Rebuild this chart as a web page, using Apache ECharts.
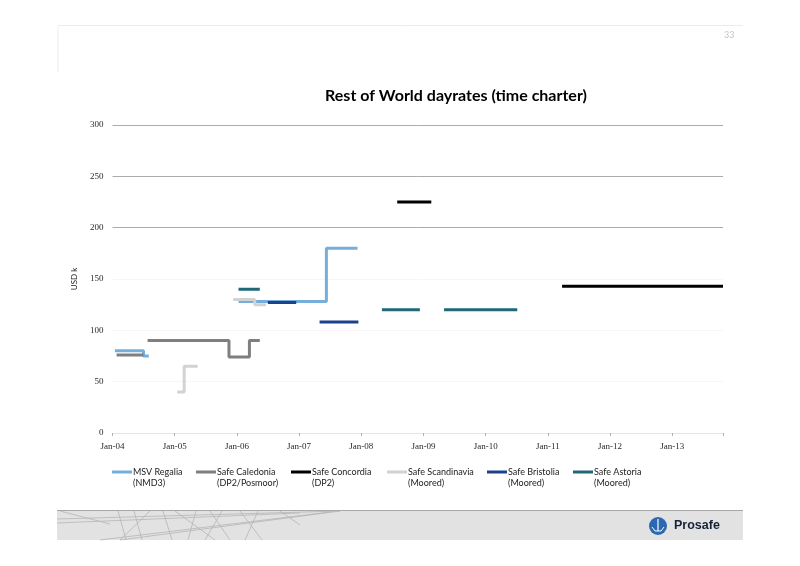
<!DOCTYPE html>
<html>
<head>
<meta charset="utf-8">
<script src="https://cdn.jsdelivr.net/npm/echarts@6/dist/echarts.min.js"></script>
<style>
  html, body { margin: 0; padding: 0; background: #fff; }
  #main { width: 800px; height: 566px; }
</style>
</head>
<body>
<div id="main"></div>
<script>
// dayrates, USD k per day, step changes
// a null row closes a contract (same date as its last row, so the step stops there)
var regalia     = [['2004-01-15', 80], ['2004-07-01', 75], ['2004-08-01', 75], ['2004-08-01', null],
                   ['2006-01-10', 128], ['2007-06-10', 180], ['2007-12-10', 180]];
var caledonia   = [['2004-01-25', 76], ['2004-07-01', 76], ['2004-07-01', null],
                   ['2004-07-25', 90], ['2005-11-15', 74], ['2006-03-15', 90], ['2006-05-15', 90]];
var concordia   = [['2008-07-30', 225], ['2009-02-15', 225], ['2009-02-15', null],
                   ['2011-03-25', 143], ['2013-10-25', 143]];
var scandinavia = [['2005-01-15', 40], ['2005-02-25', 65], ['2005-05-15', 65], ['2005-05-15', null],
                   ['2005-12-10', 130], ['2006-04-15', 125], ['2006-06-20', 125]];
var bristolia   = [['2006-07-01', 127], ['2006-12-15', 127], ['2006-12-15', null],
                   ['2007-05-01', 108], ['2007-12-15', 108]];
var astoria     = [['2006-01-10', 140], ['2006-05-15', 140], ['2006-05-15', null],
                   ['2008-05-01', 120], ['2008-12-10', 120], ['2008-12-10', null],
                   ['2009-05-01', 120], ['2010-07-05', 120]];

var seriesNames  = ['MSV Regalia\n(NMD3)', 'Safe Caledonia\n(DP2/Posmoor)', 'Safe Concordia\n(DP2)',
                    'Safe Scandinavia\n(Moored)', 'Safe Bristolia\n(Moored)', 'Safe Astoria\n(Moored)'];
var seriesData   = [regalia, caledonia, concordia, scandinavia, bristolia, astoria];
var seriesColors = ['#74afdb', '#7f7f7f', '#000000', '#d2d2d2', '#1b418f', '#1f6876'];
var legendLeft   = [112, 196, 291, 387, 487, 573];

var yTicks = [0, 50, 100, 150, 200, 250, 300];

var DAY = 86400000;
var xMin = Date.parse('2004-01-01');
var xMax = Date.parse('2013-10-25');

function toPoints(rows) {
  return rows.map(function (r) { return [Date.parse(r[0]), r[1]]; });
}

var chart = echarts.init(document.getElementById('main'));

// legend line sits level with the first text row
var legendIcon = 'path://M0,0L0.01,0L0.01,0.01Z M0,4.5H20V7.5H0Z M0,23L0.01,23L0.01,22.99Z';

var legends = seriesNames.map(function (name, i) {
  return {
    data: [name],
    left: legendLeft[i],
    top: 466,
    padding: 0,
    icon: legendIcon,
    itemWidth: 20,
    itemHeight: 23,
    itemStyle: { borderWidth: 0 },
    selectedMode: false,
    textStyle: { fontFamily: 'Lato', fontSize: 9, lineHeight: 11.5, color: '#222', padding: [0, 0, 0, -4] }
  };
});

var series = seriesData.map(function (rows, i) {
  return {
    name: seriesNames[i],
    type: 'line',
    step: 'end',
    data: toPoints(rows),
    showSymbol: false,
    symbol: 'none',
    connectNulls: false,
    color: seriesColors[i],
    lineStyle: { width: 3, color: seriesColors[i] },
    animation: false
  };
});

// truss drawing in the footer band
var truss = [
  [57, 519, 340, 511], [57, 523, 300, 513], [100, 540, 330, 512], [120, 540, 340, 511],
  [118, 511, 126, 540], [134, 511, 142, 540], [163, 511, 172, 540], [196, 511, 188, 540],
  [210, 511, 230, 540], [222, 511, 205, 540], [240, 511, 262, 540], [258, 511, 245, 540],
  [60, 511, 110, 524], [150, 511, 120, 540], [280, 511, 300, 525], [175, 511, 215, 540]
];
var trussLines = truss.map(function (s) {
  return { type: 'line', shape: { x1: s[0], y1: s[1], x2: s[2], y2: s[3] },
           style: { stroke: '#b5b5b5', lineWidth: 0.8 }, silent: true };
});

chart.setOption({
  backgroundColor: '#fff',
  animation: false,
  title: {
    text: 'Rest of World dayrates (time charter)',
    left: 451,
    textAlign: 'center',
    top: 83,
    textStyle: { fontFamily: 'Lato', fontWeight: 'bold', fontSize: 16, color: '#000' }
  },
  legend: legends,
  grid: { left: 112.5, right: 77, top: 125, bottom: 133 },
  xAxis: {
    type: 'value',
    min: xMin,
    max: xMax,
    interval: 365.25 * DAY,
    splitLine: { show: false },
    axisLine: { show: true, lineStyle: { color: '#e6e6e6', width: 1 } },
    axisTick: { show: true, length: 3, lineStyle: { color: '#b0b0b0' } },
    axisLabel: {
      margin: 9,
      fontFamily: 'Liberation Serif',
      fontSize: 9,
      color: '#2a2a2a',
      formatter: function (v) {
        var d = new Date(v + DAY);
        if (d.getUTCMonth() !== 0) return '';
        return 'Jan-' + String(d.getUTCFullYear()).slice(2);
      }
    }
  },
  yAxis: {
    type: 'value',
    min: yTicks[0],
    max: yTicks[yTicks.length - 1],
    interval: yTicks[1] - yTicks[0],
    name: 'USD k',
    nameLocation: 'middle',
    nameRotate: 90,
    nameGap: 34,
    nameTextStyle: { fontFamily: 'Lato', fontSize: 8, color: '#222' },
    axisLine: { show: false },
    axisTick: { show: false },
    axisLabel: { margin: 9, fontFamily: 'Liberation Serif', fontSize: 9, color: '#2a2a2a' },
    splitLine: {
      show: true,
      lineStyle: { color: ['#f6f6f6', '#f6f6f6', '#f6f6f6', '#f6f6f6', '#ababab', '#ababab', '#ababab'], width: 1 }
    }
  },
  series: series,
  graphic: [
    { type: 'line', shape: { x1: 58, y1: 25.5, x2: 743, y2: 25.5 }, style: { stroke: '#ececec', lineWidth: 1 }, silent: true },
    { type: 'line', shape: { x1: 58, y1: 25.5, x2: 58, y2: 72 }, style: { stroke: '#ececec', lineWidth: 1 }, silent: true },
    { type: 'text', left: 724, top: 31, style: { text: '33', fontFamily: 'Lato', fontSize: 9, fill: '#c4c4c4' }, silent: true },
    { type: 'rect', shape: { x: 57, y: 510, width: 686, height: 30 }, style: { fill: '#e2e2e2' }, silent: true },
    { type: 'group', children: trussLines, silent: true },
    { type: 'line', shape: { x1: 57, y1: 510.5, x2: 743, y2: 510.5 }, style: { stroke: '#a8a8a8', lineWidth: 1.2 }, silent: true },
    { type: 'circle', shape: { cx: 658, cy: 526, r: 9 }, style: { fill: '#2a68b2' }, silent: true },
    { type: 'polyline', shape: { points: [[658, 519], [658, 531]] }, style: { stroke: '#fff', lineWidth: 1.2 }, silent: true },
    { type: 'polyline', shape: { points: [[652, 527], [655, 531], [661, 531], [664, 527]] }, style: { stroke: '#fff', lineWidth: 1, fill: null }, silent: true },
    { type: 'text', left: 674, top: 519, style: { text: 'Prosafe', fontFamily: 'Liberation Sans', fontWeight: 'bold', fontSize: 12.5, fill: '#16213a' }, silent: true }
  ]
});
</script>
</body>
</html>
